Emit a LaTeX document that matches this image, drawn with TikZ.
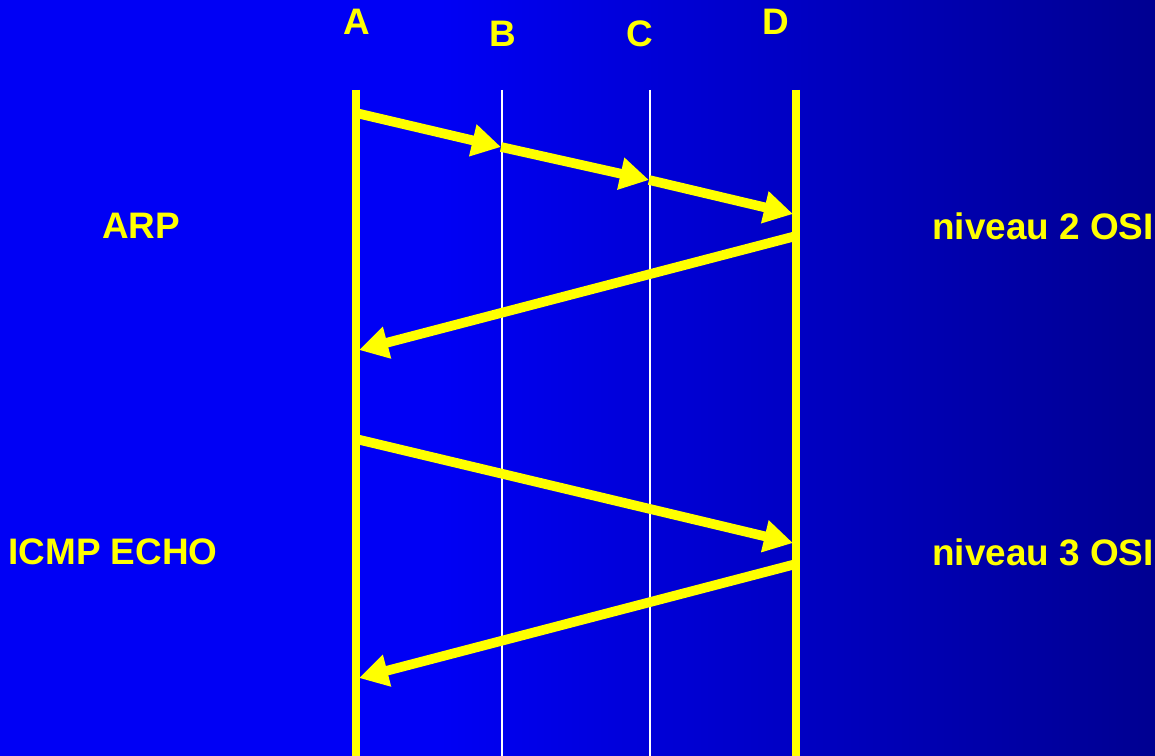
\documentclass[tikz,border=0pt]{standalone}
\usepackage{fontspec}
\setmainfont{Liberation Sans}
\usetikzlibrary{arrows.meta}
\definecolor{bgleft}{RGB}{0,0,245}
\definecolor{bgright}{RGB}{0,0,145}
\definecolor{jaune}{RGB}{255,255,0}
\tikzset{
  lifeline/.style={jaune, line width=4.5pt},
  relay/.style={white, line width=1.2pt},
  msg/.style={jaune, line width=5.5pt, -{Triangle[length=0.58cm, width=0.62cm]}},
  lbl/.style={jaune, font=\fontsize{21}{24}\selectfont\bfseries, inner sep=0pt},
}
\begin{document}
\begin{tikzpicture}[x=0.02cm, y=-0.02cm]
    % fond
    \fill[bgleft] (0,0) rectangle (440,756);
    \shade[left color=bgleft, right color=bgright] (439.5,0) rectangle (1155,756);
    \useasboundingbox (0,0) rectangle (1155,756);
    % lignes de vie
    \coordinate (Atop) at (356,90);  \coordinate (Abot) at (356,756);
    \coordinate (Btop) at (502,90);  \coordinate (Bbot) at (502,756);
    \coordinate (Ctop) at (650,90);  \coordinate (Cbot) at (650,756);
    \coordinate (Dtop) at (796,90);  \coordinate (Dbot) at (796,756);
    \draw[relay] (Btop) -- (Bbot);
    \draw[relay] (Ctop) -- (Cbot);
    \draw[lifeline] (Atop) -- (Abot);
    \draw[lifeline] (Dtop) -- (Dbot);
    \node[lbl] (nA) at (357,22) {A};
    \node[lbl] (nB) at (503,34) {B};
    \node[lbl] (nC) at (640,34) {C};
    \node[lbl] (nD) at (776,22) {D};
    % ARP
    \coordinate (a1) at (356,113);
    \coordinate (b1) at (501,147);
    \coordinate (c1) at (649,180);
    \coordinate (d1) at (793,214);
    \coordinate (d2) at (796,236);
    \coordinate (a2) at (359,350);
    \draw[msg] (a1) -- (b1);
    \draw[msg] (b1) -- (c1);
    \draw[msg] (c1) -- (d1);
    \draw[msg] (d2) -- (a2);
    % ICMP
    \coordinate (a3) at (356,439);
    \coordinate (d3) at (793,543);
    \coordinate (d4) at (796,564);
    \coordinate (a4) at (359,678);
    \draw[msg] (a3) -- (d3);
    \draw[msg] (d4) -- (a4);
    \node[lbl] (arp) at (141,226) {ARP};
    \node[lbl] (niv2) at (1043,226) {niveau 2 OSI};
    \node[lbl] (icmp) at (113,552) {ICMP ECHO};
    \node[lbl] (niv3) at (1043,552) {niveau 3 OSI};
\end{tikzpicture}
\end{document}
